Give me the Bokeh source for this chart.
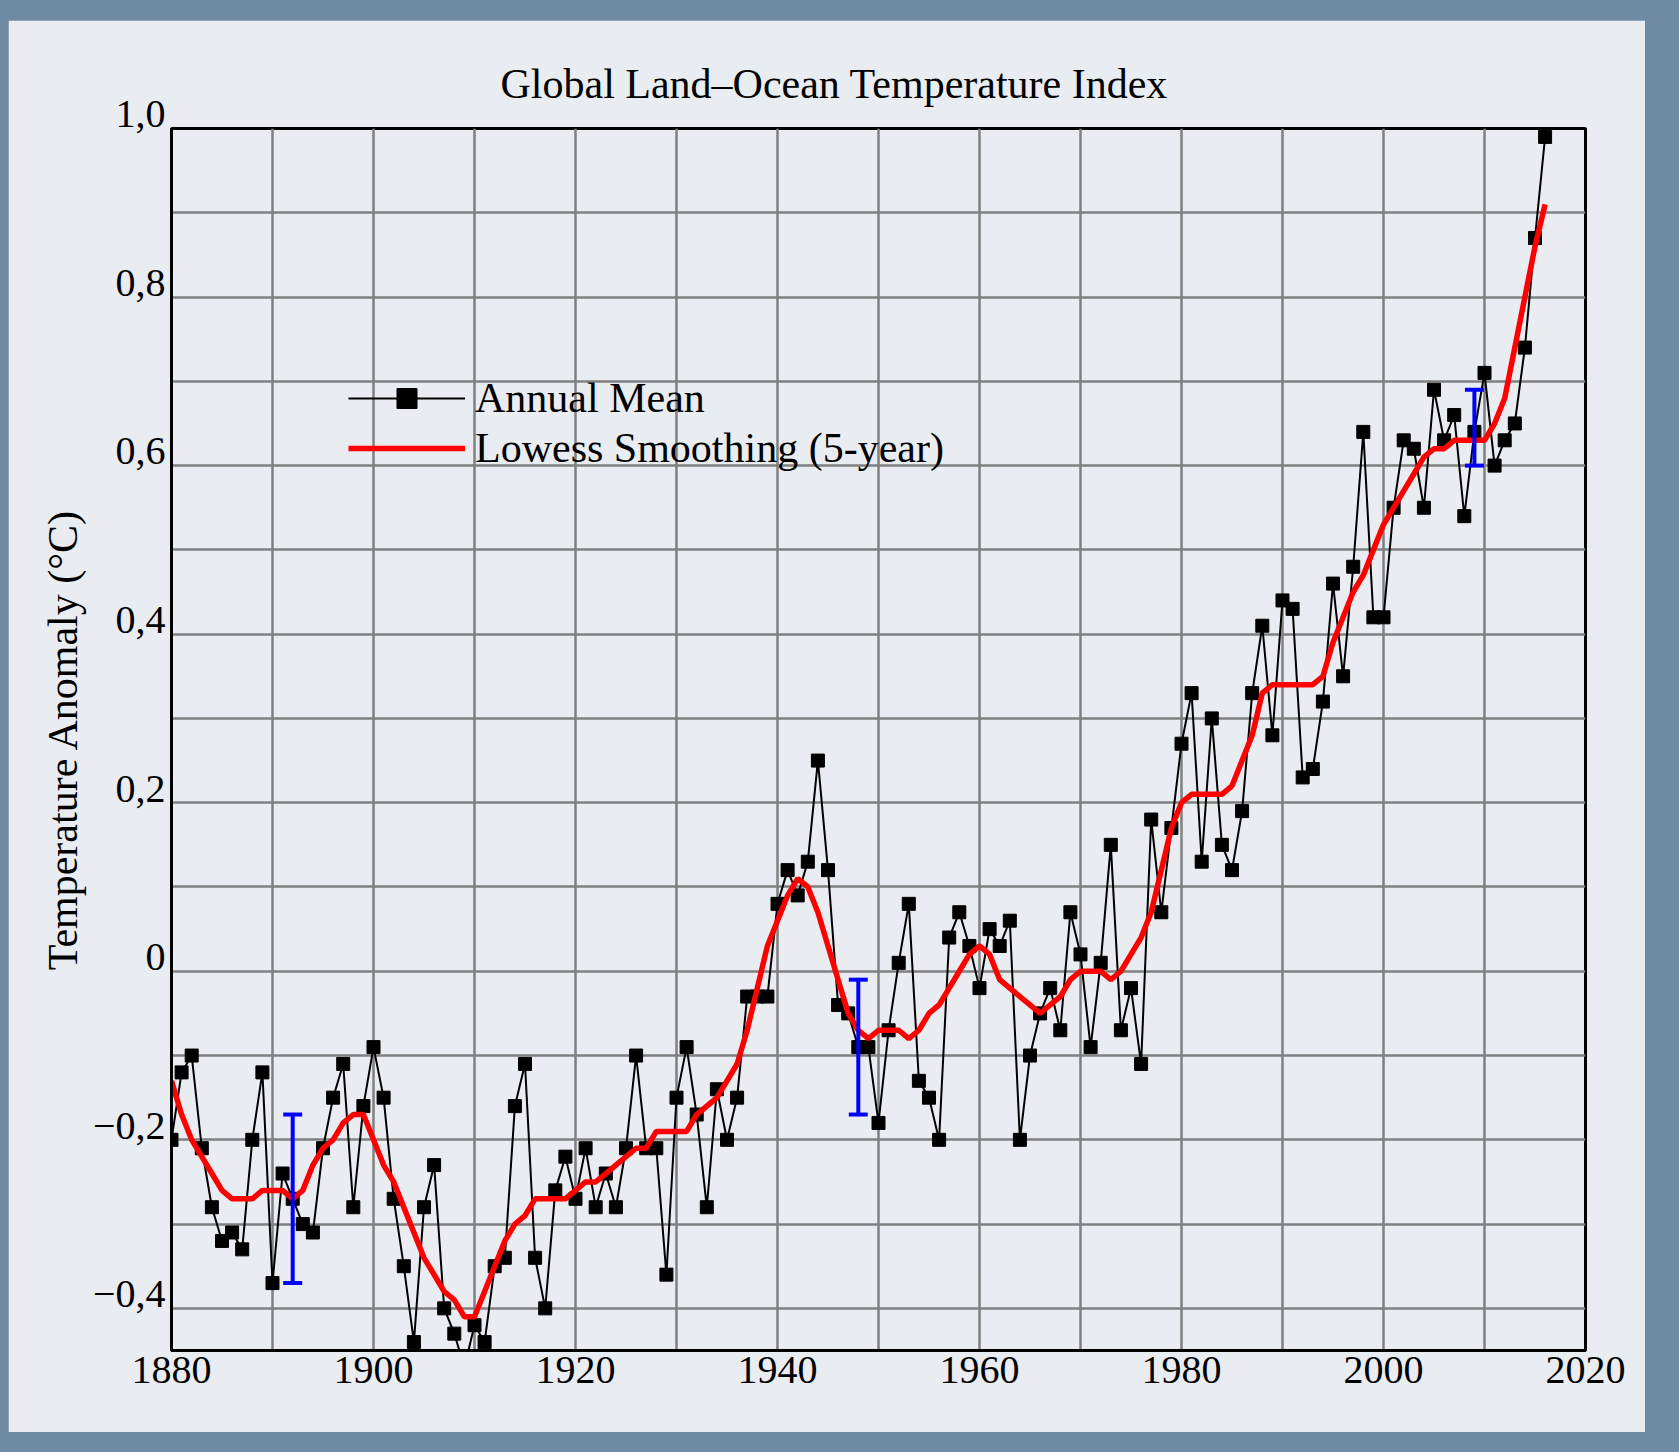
from bokeh.plotting import figure
from bokeh.models import (ColumnDataSource, Range1d, FixedTicker, Legend, LegendItem,
                          Whisker, TeeHead)
from bokeh.embed import file_html
from bokeh.resources import INLINE

years = list(range(1880, 2017))

annual_mean = [
    -0.20, -0.12, -0.10, -0.21, -0.28, -0.32, -0.31, -0.33, -0.20, -0.12,
    -0.37, -0.24, -0.27, -0.30, -0.31, -0.21, -0.15, -0.11, -0.28, -0.16,
    -0.09, -0.15, -0.27, -0.35, -0.44, -0.28, -0.23, -0.40, -0.43, -0.47,
    -0.42, -0.44, -0.35, -0.34, -0.16, -0.11, -0.34, -0.40, -0.26, -0.22,
    -0.27, -0.21, -0.28, -0.24, -0.28, -0.21, -0.10, -0.21, -0.21, -0.36,
    -0.15, -0.09, -0.17, -0.28, -0.14, -0.20, -0.15, -0.03, -0.03, -0.03,
    0.08, 0.12, 0.09, 0.13, 0.25, 0.12, -0.04, -0.05, -0.09, -0.09,
    -0.18, -0.07, 0.01, 0.08, -0.13, -0.15, -0.20, 0.04, 0.07, 0.03,
    -0.02, 0.05, 0.03, 0.06, -0.20, -0.10, -0.05, -0.02, -0.07, 0.07,
    0.02, -0.09, 0.01, 0.15, -0.07, -0.02, -0.11, 0.18, 0.07, 0.17,
    0.27, 0.33, 0.13, 0.30, 0.15, 0.12, 0.19, 0.33, 0.41, 0.28,
    0.44, 0.43, 0.23, 0.24, 0.32, 0.46, 0.35, 0.48, 0.64, 0.42,
    0.42, 0.55, 0.63, 0.62, 0.55, 0.69, 0.63, 0.66, 0.54, 0.64,
    0.71, 0.60, 0.63, 0.65, 0.74, 0.87, 0.99,
]

lowess_5yr = [
    -0.13, -0.17, -0.20, -0.22, -0.24, -0.26, -0.27, -0.27, -0.27, -0.26,
    -0.26, -0.26, -0.27, -0.26, -0.23, -0.21, -0.20, -0.18, -0.17, -0.17,
    -0.20, -0.23, -0.25, -0.28, -0.31, -0.34, -0.36, -0.38, -0.39, -0.41,
    -0.41, -0.38, -0.35, -0.32, -0.30, -0.29, -0.27, -0.27, -0.27, -0.27,
    -0.26, -0.25, -0.25, -0.24, -0.23, -0.22, -0.21, -0.21, -0.19, -0.19,
    -0.19, -0.19, -0.17, -0.16, -0.15, -0.13, -0.11, -0.07, -0.02, 0.03,
    0.06, 0.09, 0.11, 0.10, 0.07, 0.03, -0.01, -0.05, -0.07, -0.08,
    -0.07, -0.07, -0.07, -0.08, -0.07, -0.05, -0.04, -0.02, 0.00, 0.02,
    0.03, 0.02, -0.01, -0.02, -0.03, -0.04, -0.05, -0.04, -0.03, -0.01,
    0.00, 0.00, 0.00, -0.01, 0.00, 0.02, 0.04, 0.07, 0.12, 0.17,
    0.20, 0.21, 0.21, 0.21, 0.21, 0.22, 0.25, 0.28, 0.33, 0.34,
    0.34, 0.34, 0.34, 0.34, 0.35, 0.39, 0.42, 0.45, 0.47, 0.50,
    0.53, 0.55, 0.57, 0.59, 0.61, 0.62, 0.62, 0.63, 0.63, 0.63,
    0.63, 0.65, 0.68, 0.74, 0.80, 0.86, 0.91,
]

err_years = [1892, 1948, 2009]
err_lower = [-0.37, -0.17, 0.60]
err_upper = [-0.17, -0.01, 0.69]

x_ticks = [1880, 1900, 1920, 1940, 1960, 1980, 2000, 2020]
x_grid = list(range(1880, 2021, 10))
y_tick_values = [1.0, 0.8, 0.6, 0.4, 0.2, 0.0, -0.2, -0.4]
y_tick_labels = ["1,0", "0,8", "0,6", "0,4", "0,2", "0", "\u22120,2", "\u22120,4"]
y_grid = [round(-0.4 + 0.1 * i, 1) for i in range(15)]
legend_labels = ["Annual Mean", "Lowess Smoothing (5-year)"]

FONT = "Liberation Serif"
BG = "#e9ecf0"

p = figure(width=1637, height=1412, output_backend="svg", toolbar_location=None,
           x_range=Range1d(1880, 2020), y_range=Range1d(-0.45, 1.0),
           min_border_left=163, min_border_right=60, min_border_top=108,
           min_border_bottom=82,
           background_fill_color=BG, border_fill_color=BG)

p.title.text = "Global Land\u2013Ocean Temperature Index"
p.title.text_font = FONT
p.title.text_font_size = "42px"
p.title.text_font_style = "normal"
p.title.text_color = "black"
p.title.align = "left"
p.title.offset = 329
p.title.standoff = 44

p.outline_line_color = "black"
p.outline_line_width = 3

# grid
p.xgrid.ticker = FixedTicker(ticks=x_grid)
p.ygrid.ticker = FixedTicker(ticks=y_grid)
for g in (p.xgrid, p.ygrid):
    g.grid_line_color = "#808080"
    g.grid_line_width = 2.5
    g.grid_line_alpha = 1.0

# axes
p.xaxis.ticker = FixedTicker(ticks=x_ticks)
p.xaxis.major_label_text_font = FONT
p.xaxis.major_label_text_font_size = "40px"
p.xaxis.major_label_text_color = "black"
p.xaxis.major_label_standoff = 6
p.xaxis.axis_line_color = "black"
p.xaxis.axis_line_width = 3

# labels sit with their baseline on the tick value, as in the reference:
# an empty second line lifts each label by half a (short) line height
p.yaxis.ticker = FixedTicker(ticks=y_tick_values)
p.yaxis.major_label_overrides = {v: t + "\n" for v, t in zip(y_tick_values, y_tick_labels)}
p.yaxis.major_label_text_font = FONT
p.yaxis.major_label_text_font_size = "40px"
p.yaxis.major_label_text_line_height = 0.65
p.yaxis.major_label_text_color = "black"
p.yaxis.major_label_standoff = 6
p.yaxis.axis_label = "Temperature Anomaly (\u00b0C)"
p.yaxis.axis_label_text_font = FONT
p.yaxis.axis_label_text_font_size = "42px"
p.yaxis.axis_label_text_font_style = "normal"
p.yaxis.axis_label_text_color = "black"
p.yaxis.axis_label_standoff = 4
p.yaxis.axis_line_color = "black"
p.yaxis.axis_line_width = 3

for ax in (p.xaxis, p.yaxis):
    ax.major_tick_line_color = None
    ax.minor_tick_line_color = None
    ax.major_tick_out = 0
    ax.major_tick_in = 0

# error bars
err_src = ColumnDataSource(dict(year=err_years, lo=err_lower, hi=err_upper))
whisk = Whisker(source=err_src, base="year", lower="lo", upper="hi",
                line_color="#0000ff", line_width=4, level="glyph",
                lower_head=TeeHead(size=19, line_color="#0000ff", line_width=4),
                upper_head=TeeHead(size=19, line_color="#0000ff", line_width=4))
p.add_layout(whisk)

src = ColumnDataSource(dict(year=years, annual=annual_mean, smooth=lowess_5yr))
r_line = p.line("year", "annual", source=src, line_color="black", line_width=2)
r_pts = p.scatter("year", "annual", source=src, marker="square", size=13,
                  fill_color="black", line_color="black")
r_smooth = p.line("year", "smooth", source=src, line_color="#ff0000", line_width=5.5)

legend = Legend(items=[LegendItem(label=legend_labels[0], renderers=[r_line, r_pts]),
                       LegendItem(label=legend_labels[1], renderers=[r_smooth])],
                location=(177, 877), orientation="vertical",
                glyph_width=117, glyph_height=50, label_height=50, label_width=10,
                label_standoff=10, spacing=0, padding=0, margin=0,
                border_line_color=None, background_fill_alpha=0,
                label_text_font=FONT, label_text_font_size="42px",
                label_text_color="black")
p.add_layout(legend, "center")

html = file_html(p, INLINE, title="Global Land\u2013Ocean Temperature Index")
css = ("<style>html, body { background-color: #6f8ba3 !important; } "
       "body { margin: 0 !important; padding: 20px 0 0 8px !important; }</style>")
html = html.replace("</head>", css + "</head>", 1)
open("out.html", "w").write(html)
